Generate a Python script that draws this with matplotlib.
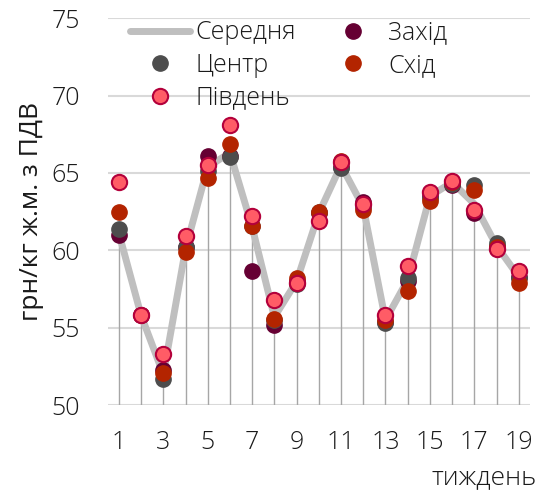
import matplotlib.pyplot as plt
import numpy as np

# weekly prices, UAH/kg live weight incl. VAT
weeks = np.arange(1, 20)
mean_price = [61.1, 55.8, 52.0, 60.1, 65.4, 66.3, 61.5, 55.7, 58.0, 62.4, 65.5,
              62.8, 55.5, 58.1, 63.5, 64.4, 63.0, 60.3, 58.3]
centre = [61.4, 55.8, 51.7, 60.2, 65.1, 66.0, 61.6, 55.5, 57.8, 62.5, 65.3,
          62.8, 55.3, 58.2, 63.4, 64.3, 64.2, 60.5, 58.2]
west = [61.0, 55.8, 52.3, 60.2, 66.1, 66.1, 58.7, 55.2, 58.0, 62.4, 65.4,
        63.1, 55.4, 58.0, 63.5, 64.2, 62.4, 60.3, 58.3]
east = [62.5, 55.8, 52.1, 59.9, 64.7, 66.9, 61.6, 55.6, 58.2, 62.5, 65.8,
        62.6, 55.5, 57.4, 63.2, 64.4, 63.9, 60.2, 57.9]
south = [64.4, 55.8, 53.3, 60.9, 65.5, 68.1, 62.2, 56.8, 57.9, 61.9, 65.7,
         63.0, 55.8, 59.0, 63.8, 64.5, 62.6, 60.1, 58.7]
yticks = [50, 55, 60, 65, 70, 75]
xticks = [1, 3, 5, 7, 9, 11, 13, 15, 17, 19]

plt.rcParams['font.family'] = ['Open Sans', 'DejaVu Sans']
plt.rcParams['font.weight'] = 300
txt = '#1a1a1a'

fig = plt.figure(figsize=(5.39, 4.9), dpi=100)
ax = fig.add_axes([0.2, 0.173, 0.783, 0.79])

# drop lines from the mean down to the axis
ax.vlines(weeks, 50, mean_price, color='#a6a6a6', lw=1, zorder=2)
ax.plot(weeks, mean_price, color='#bfbfbf', lw=5, solid_capstyle='round',
        zorder=3, label='Середня')

ms = 11
ax.plot(weeks, west, 'o', ms=ms, color='#660033', mec='#660033', zorder=4, label='Захід')
ax.plot(weeks, centre, 'o', ms=ms, color='#4d4d4d', mec='#4d4d4d', zorder=5, label='Центр')
ax.plot(weeks, east, 'o', ms=ms, color='#b32400', mec='#b32400', zorder=6, label='Схід')
ax.plot(weeks, south, 'o', ms=ms, color='#ff5c66', mec='#b3003b', mew=1.5, zorder=7,
        label='Південь')

ax.set_xlim(0.5, 19.5)
ax.set_ylim(50, 75)
ax.set_yticks(yticks)
ax.set_xticks(xticks)
ax.tick_params(length=0, labelsize=18, colors=txt)
ax.tick_params(axis='x', pad=18)
ax.tick_params(axis='y', pad=20)
ax.grid(axis='y', color='#d9d9d9', lw=1.5)
ax.set_axisbelow(True)
for s in ax.spines.values():
    s.set_visible(False)

ax.set_ylabel('грн/кг ж.м. з ПДВ', fontsize=19, color=txt, labelpad=5)
fig.text(0.8, 0.0, 'тиждень', fontsize=19, color=txt, ha='left', va='bottom')

h, l = ax.get_legend_handles_labels()
order = [l.index(n) for n in ['Середня', 'Центр', 'Південь', 'Захід', 'Схід']]
leg = ax.legend([h[i] for i in order], [l[i] for i in order], ncol=2, frameon=False,
                loc='upper left', bbox_to_anchor=(0.03, 1.02), fontsize=18,
                handlelength=2.4, handletextpad=0.2, columnspacing=1.1,
                labelspacing=0.3, borderaxespad=0)
for t in leg.get_texts():
    t.set_color(txt)

fig.savefig('out.png', dpi=100)
